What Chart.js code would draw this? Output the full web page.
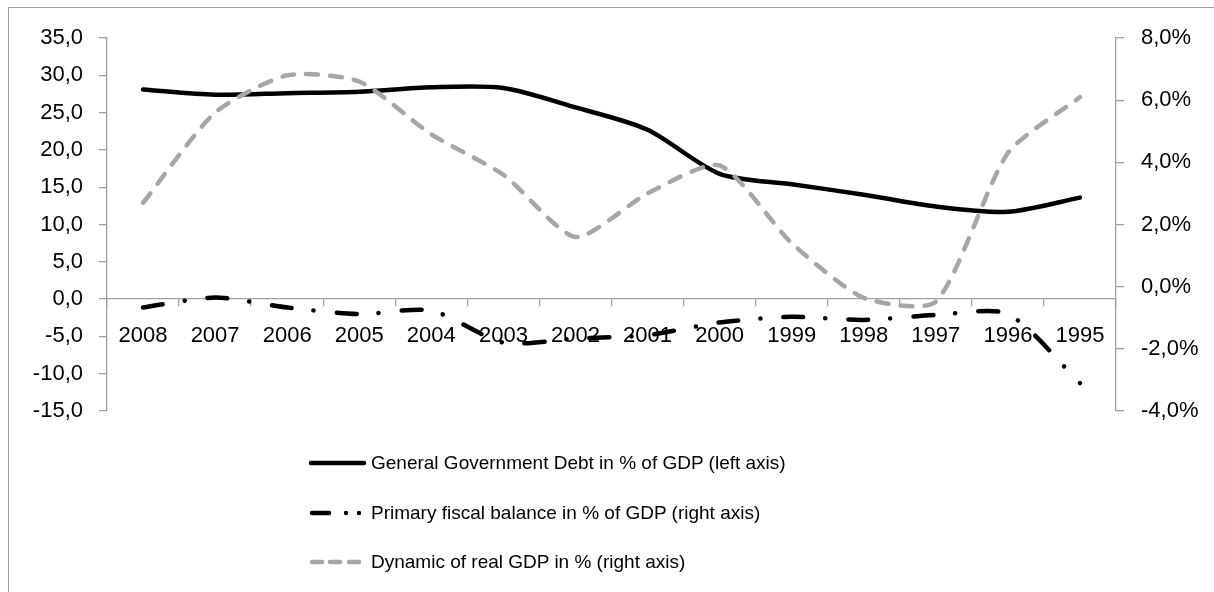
<!DOCTYPE html>
<html>
<head>
<meta charset="utf-8">
<script src="https://cdn.jsdelivr.net/npm/chart.js@4/dist/chart.umd.min.js"></script>
<style>
html,body{margin:0;padding:0;background:#fff;}
#wrap{position:relative;width:1214px;height:592px;overflow:hidden;background:#fff;}
#frame{position:absolute;left:8px;top:7px;width:1400px;height:800px;border-left:1px solid #a0a0a0;border-top:1px solid #a0a0a0;}
#c{position:absolute;left:0;top:0;}
.item{position:absolute;left:308px;height:30px;display:flex;align-items:center;white-space:nowrap;font-family:"Liberation Sans",Arial,sans-serif;font-size:19px;color:#000;}
.item svg{display:block;margin-right:4px;}
</style>
</head>
<body>
<div id="wrap">
  <div id="frame"></div>
  <canvas id="c" width="1214" height="592"></canvas>
  <div id="legend"></div>
</div>
<script>
// ---- data ----
const years = ['2008','2007','2006','2005','2004','2003','2002','2001','2000','1999','1998','1997','1996','1995'];
const debtPctGDP = [28.1, 27.4, 27.6, 27.8, 28.4, 28.3, 25.7, 22.7, 16.8, 15.4, 14.0, 12.4, 11.7, 13.6];
const primaryBalancePct = [-0.67, -0.35, -0.67, -0.88, -0.77, -1.8, -1.67, -1.56, -1.15, -0.97, -1.07, -0.91, -0.88, -3.1];
const realGDPDynamicPct = [2.7, 5.6, 6.8, 6.6, 4.9, 3.6, 1.6, 3.0, 3.9, 1.4, -0.36, -0.48, 4.3, 6.1];
const seriesNames = [
  'General Government Debt in % of GDP (left axis)',
  'Primary fiscal balance in % of GDP (right axis)',
  'Dynamic of real GDP in % (right axis)'
];
const leftTicks = {min: -15, max: 35, step: 5};
const rightTicks = {min: -4, max: 8, step: 2};

const FONT = '"Liberation Sans", Arial, sans-serif';
const AXIS = '#a0a0a0';
const fmt = v => v.toFixed(1).replace('.', ',');

new Chart(document.getElementById('c'), {
  type: 'line',
  data: {
    labels: years,
    datasets: [
      {label: seriesNames[0], data: debtPctGDP, yAxisID: 'y', borderColor: '#000', borderWidth: 4.5,
       pointRadius: 0, tension: 0.28, order: 2, borderCapStyle: 'round', fill: false},
      {label: seriesNames[1], data: primaryBalancePct, yAxisID: 'y1', borderColor: '#000', borderWidth: 4.5,
       borderDash: [20, 22, 0.1, 23], borderCapStyle: 'round', pointRadius: 0, tension: 0.25, order: 1, fill: false},
      {label: seriesNames[2], data: realGDPDynamicPct, yAxisID: 'y1', borderColor: '#a6a6a6', borderWidth: 4.5,
       borderDash: [12, 12], borderCapStyle: 'round', pointRadius: 0, tension: 0.22, order: 0, fill: false}
    ]
  },
  options: {
    responsive: false,
    animation: false,
    devicePixelRatio: 1,
    layout: {padding: {left: 9, right: 8, top: 38, bottom: 181}},
    plugins: {legend: {display: false}, tooltip: {enabled: false}},
    scales: {
      x: {
        type: 'category',
        position: {y: 0},
        offset: true,
        grid: {display: true, drawOnChartArea: false, drawTicks: true, tickLength: 7, color: AXIS, lineWidth: 1.3, offset: true},
        border: {display: true, color: AXIS, width: 1.3},
        ticks: {font: {family: FONT, size: 22}, color: '#000', padding: 17, maxRotation: 0, autoSkip: false}
      },
      y: {
        position: 'left',
        min: leftTicks.min, max: leftTicks.max,
        afterFit: s => { s.width = 98; },
        grid: {display: true, drawOnChartArea: false, drawTicks: true, tickLength: 8, color: AXIS, lineWidth: 1.3},
        border: {display: true, color: AXIS, width: 1.3},
        ticks: {stepSize: leftTicks.step, font: {family: FONT, size: 22}, color: '#000', padding: 16,
                callback: v => fmt(v)}
      },
      y1: {
        position: 'right',
        min: rightTicks.min, max: rightTicks.max,
        afterFit: s => { s.width = 90; },
        grid: {display: true, drawOnChartArea: false, drawTicks: true, tickLength: 8, color: AXIS, lineWidth: 1.3},
        border: {display: true, color: AXIS, width: 1.3},
        ticks: {stepSize: rightTicks.step, font: {family: FONT, size: 22}, color: '#000', padding: 17,
                callback: v => fmt(v) + '%'}
      }
    }
  }
});

// ---- legend (HTML) ----
const samples = [
  '<line x1="3" y1="5" x2="56" y2="5" stroke="#000" stroke-width="4.5" stroke-linecap="round"/>',
  '<line x1="4" y1="5" x2="21" y2="5" stroke="#000" stroke-width="4.5" stroke-linecap="round"/>' +
  '<circle cx="38" cy="5" r="2.2" fill="#000"/><circle cx="51" cy="5" r="2.2" fill="#000"/>',
  '<line x1="4" y1="5" x2="14" y2="5" stroke="#a6a6a6" stroke-width="4.5" stroke-linecap="round"/>' +
  '<line x1="22" y1="5" x2="32" y2="5" stroke="#a6a6a6" stroke-width="4.5" stroke-linecap="round"/>' +
  '<line x1="41" y1="5" x2="51" y2="5" stroke="#a6a6a6" stroke-width="4.5" stroke-linecap="round"/>'
];
const centers = [463, 513, 562];
const lg = document.getElementById('legend');
seriesNames.forEach((name, i) => {
  const d = document.createElement('div');
  d.className = 'item';
  d.style.top = (centers[i] - 15) + 'px';
  d.innerHTML = '<svg width="59" height="10" viewBox="0 0 59 10">' + samples[i] + '</svg><span>' + name + '</span>';
  lg.appendChild(d);
});
</script>
</body>
</html>
